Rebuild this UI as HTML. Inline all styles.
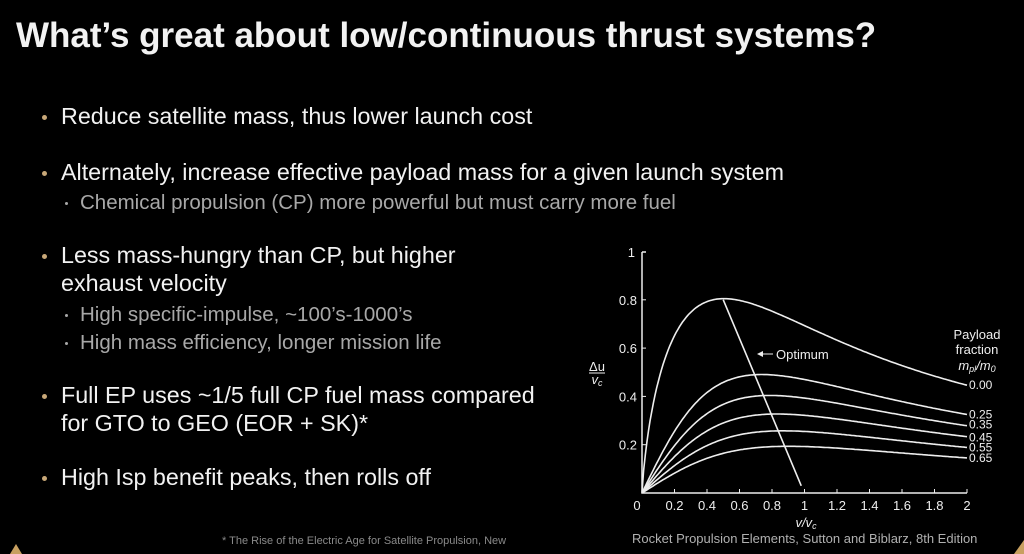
<!DOCTYPE html>
<html><head><meta charset="utf-8"><style>
html,body{margin:0;padding:0;background:#000;width:1024px;height:554px;overflow:hidden;position:relative;font-family:"Liberation Sans",Arial,sans-serif}
.t{position:absolute;white-space:nowrap;color:#f2f2f2}
.b{font-size:23.3px;left:61px}
.b:before{content:"";position:absolute;left:-19px;top:12px;width:5px;height:5px;border-radius:50%;background:#c8a878}
.s{font-size:20.5px;left:80px;color:#a8a8a8}
.s:before{content:"";position:absolute;left:-15px;top:11px;width:3px;height:3px;border-radius:50%;background:#a8a8a8}
</style></head><body>
<div class="t" style="left:16px;top:16px;font-size:35px;font-weight:bold">What’s great about low/continuous thrust systems?</div>
<div class="t b" style="top:103px">Reduce satellite mass, thus lower launch cost</div>
<div class="t b" style="top:159px">Alternately, increase effective payload mass for a given launch system</div>
<div class="t s" style="top:191px">Chemical propulsion (CP) more powerful but must carry more fuel</div>
<div class="t b" style="top:242px">Less mass-hungry than CP, but higher</div>
<div class="t" style="left:61px;top:270px;font-size:23.3px">exhaust velocity</div>
<div class="t s" style="top:303px">High specific-impulse, ~100’s-1000’s</div>
<div class="t s" style="top:331px">High mass efficiency, longer mission life</div>
<div class="t b" style="top:382px">Full EP uses ~1/5 full CP fuel mass compared</div>
<div class="t" style="left:61px;top:410px;font-size:23.3px">for GTO to GEO (EOR + SK)*</div>
<div class="t b" style="top:464px">High Isp benefit peaks, then rolls off</div>
<div class="t" style="left:222px;top:535px;font-size:11px;color:#8a8a8a">* The Rise of the Electric Age for Satellite Propulsion, New</div>
<div class="t" style="left:632px;top:531px;font-size:13px;color:#b0b0b0">Rocket Propulsion Elements, Sutton and Biblarz, 8th Edition</div>
<svg id="c" width="1024" height="554" style="position:absolute;left:0;top:0" font-family="Liberation Sans, Arial, sans-serif" fill="#eee"></svg>
<script>
var s=document.getElementById('c'),X0=642,Y0=493,KX=162.5,KY=241.5,h='';
function px(x){return X0+x*KX}function py(y){return Y0-y*KY}
h+='<path d="M'+X0+' 252H646M'+X0+' 252V'+Y0+'H967" stroke="#eee" stroke-width="1.5" fill="none"/>';
for(var i=1;i<=10;i++){var x=px(i*0.2);h+='<line x1="'+x+'" x2="'+x+'" y1="'+Y0+'" y2="'+(Y0-4)+'" stroke="#eee"/>';h+='<text x="'+x+'" y="510" font-size="13" text-anchor="middle">'+(i%5==0?(i/5):(i*0.2).toFixed(1))+'</text>'}
h+='<text x="637" y="510" font-size="13" text-anchor="middle">0</text>';
[0.2,0.4,0.6,0.8].forEach(function(v){var y=py(v);h+='<line x1="'+X0+'" x2="'+(X0+4)+'" y1="'+y+'" y2="'+y+'" stroke="#eee"/><text x="637" y="'+(y+5)+'" font-size="13" text-anchor="end">'+v+'</text>'});
h+='<text x="635" y="257" font-size="13" text-anchor="end">1</text>';
[0,0.25,0.35,0.45,0.55,0.65].forEach(function(p){var d='';for(var k=0;k<=200;k++){var v=0.0001+k*0.01,u=v*Math.log((1+v*v)/(p+v*v));d+=(k?'L':'M')+px(v).toFixed(1)+' '+py(u).toFixed(1)}
h+='<path d="'+d+'" stroke="#eee" stroke-width="1.6" fill="none"/>';var ue=2*Math.log(5/(p+4));h+='<text x="969" y="'+(py(ue)+4+(p==0.35?-1:0)+(p==0.45?1:0))+'" font-size="12">'+p.toFixed(2)+'</text>'});
h+='<path d="M'+px(0.5)+' '+py(0.8)+'Q'+px(0.72)+' '+py(0.45)+' '+px(0.98)+' '+py(0.03)+'" stroke="#eee" stroke-width="1.6" fill="none"/>';
h+='<line x1="760" y1="354" x2="773" y2="354" stroke="#eee"/><path d="M757 354l6-3v6z"/><text x="776" y="359" font-size="13">Optimum</text>';
h+='<text x="977" y="339" font-size="13" text-anchor="middle">Payload</text><text x="977" y="354" font-size="13" text-anchor="middle">fraction</text><text x="977" y="370" font-size="13" text-anchor="middle" font-style="italic">m<tspan font-size="9" dy="2">pl</tspan><tspan dy="-2">/m</tspan><tspan font-size="9" dy="2">0</tspan></text>';
h+='<text x="597" y="371" font-size="13" text-anchor="middle">Δu</text><line x1="589" x2="605" y1="373" y2="373" stroke="#eee"/><text x="597" y="384" font-size="13" font-style="italic" text-anchor="middle">v<tspan font-size="9" dy="2">c</tspan></text>';
h+='<text x="806" y="527" font-size="13" font-style="italic" text-anchor="middle">v/v<tspan font-size="9" dy="2">c</tspan></text>';
h+='<path d="M1014 554L1024 540V554Z" fill="#c8a060"/><path d="M10 554L16 544L22 554Z" fill="#c8a060"/>';
s.innerHTML=h;
</script>
</body></html>
